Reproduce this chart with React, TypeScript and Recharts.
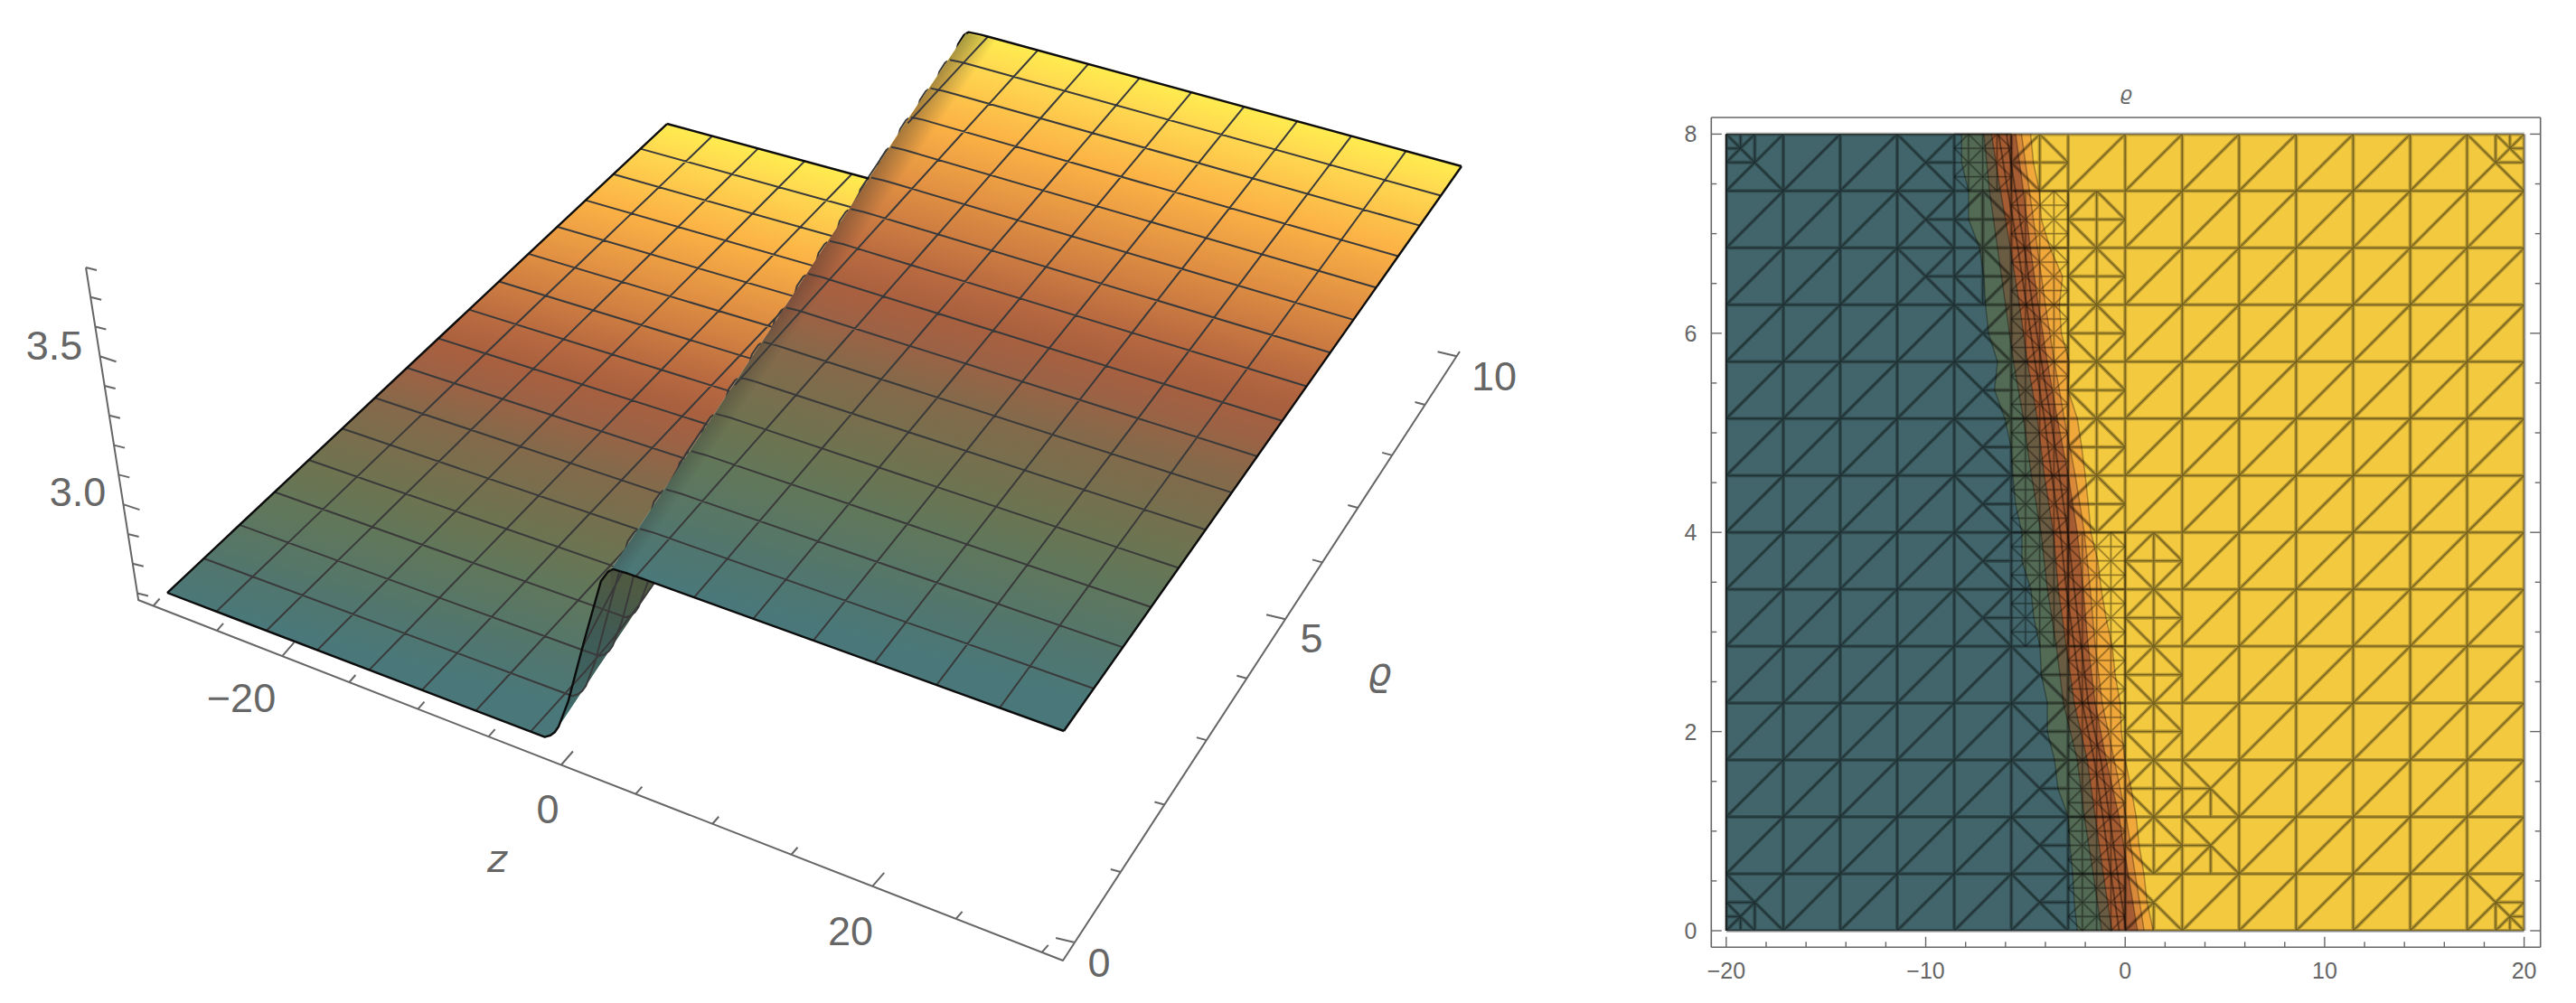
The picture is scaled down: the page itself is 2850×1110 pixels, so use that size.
import { Area, ComposedChart, Line, ReferenceDot, XAxis, YAxis } from "recharts";

// ---- surface data (left plot) ----
const meshZ = [-30, -26.25, -22.5, -18.75, -15, -11.25, -7.5, -3.75, 0, 3.75, 7.5, 11.25, 15, 18.75, 22.5, 26.25, 30];
const meshRho = [0, 0.625, 1.25, 1.875, 2.5, 3.125, 3.75, 4.375, 5, 5.625, 6.25, 6.875, 7.5, 8.125, 8.75, 9.375, 10];
const ridgeRho = [0, 2, 4, 6, 8, 10];
const ridgeZ = [0, -1.5, -3, -4.55, -6.1, -7.5];
const profileDz = [-4, -2.8, -2.4, -2.1, -1.83, -1.1, 0.17, 1.42, 1.9, 2.1, 2.28, 3.2, 8];
const profileLevel = [0, 0, 0.02, 0.045, 0.08, 0.23, 0.58, 0.91, 0.97, 0.985, 0.995, 1, 1];
const foldRho = [0, 0.25, 0.5, 0.75, 1, 1.25, 1.5, 1.75, 2, 2.25, 2.5, 2.75, 3];
const colorRho = [10, 9.4, 8.1, 6.9, 5.6, 5, 4.4, 3.75, 2.5, 1.9, 0.6, 0];
const colorHex = ["#ffec50", "#ffd850", "#fbb045", "#df8e42", "#b96a40", "#a9603f", "#9c6245", "#85694a", "#6e7350", "#637758", "#50766f", "#4a787a"];
const zAxisTicks = [-30, -25, -20, -15, -10, -5, 0, 5, 10, 15, 20, 25, 30];
const rhoAxisTicks = [0, 1, 2, 3, 4, 5, 6, 7, 8, 9, 10];
const hAxisTicks = [2.7, 2.8, 2.9, 3.0, 3.1, 3.2, 3.3, 3.4, 3.5, 3.6, 3.7, 3.8];

// ---- density plot data (right plot) ----
const gridZ = [-20, -17.14, -14.29, -11.43, -8.57, -5.71, -2.86, 0, 2.86, 5.71, 8.57, 11.43, 14.29, 17.14, 20];
const gridRho = [0, 0.571, 1.143, 1.714, 2.286, 2.857, 3.429, 4, 4.571, 5.143, 5.714, 6.286, 6.857, 7.429, 8];
// refinement of every cell, top row first
const meshLevels = [
  "c00x210000000c",
  "000x1210000000",
  "000x1210000000",
  "0000x210000000",
  "0000x210000000",
  "0000x210000000",
  "0000x210000000",
  "0000x221000000",
  "0000x221000000",
  "00000x21000000",
  "00000x21000000",
  "00000x21y00000",
  "00000x21y00000",
  "c0000x2y00000c",
];
const tealEdge = [-2.4, -2.55, -2.63, -2.77, -2.86, -3.37, -3.54, -3.9, -3.9, -4.2, -4.27, -4.58, -4.73, -5.18, -5.18, -5.5, -5.63, -5.72, -6.03, -6.55, -6.4, -6.85, -7, -7.08, -7.3, -7.85, -7.85, -8.2, -8.2];
const oliveEdge = [-1.18, -1.6, -2.05, -2.4, -3.1, -3.45, -3.9, -4.22, -4.7, -5.1, -5.6, -6, -6.4, -6.8, -7.08];
const umberEdge = [-0.66, -1.1, -1.5, -1.9, -2.55, -2.95, -3.35, -3.6, -4.05, -4.4, -4.9, -5.3, -5.75, -6.25, -6.7];
const brownEdge = [0.62, 0.15, -0.3, -0.95, -1.5, -1.85, -2.1, -2.4, -2.85, -3.4, -3.9, -4.35, -4.75, -5.1, -5.49];
const amberEdge = [0.95, 0.5, 0.05, -0.55, -1.15, -1.5, -1.75, -2.05, -2.5, -3.05, -3.55, -4, -4.4, -4.8, -5.2];
const orangeEdge = [1.41, 1.1, 0.94, 0.7, 0.55, 0.3, 0, -0.19, -0.25, -0.5, -0.65, -0.96, -1.2, -1.37, -1.72, -1.85, -2, -2.18, -2.4, -2.86, -2.8, -3.2, -3.3, -3.14, -3.77, -4.2, -4.3, -4.6, -4.74];
const streakA = [-0.3, -0.72, -1.12, -1.55, -2.15, -2.55, -2.95, -3.25, -3.68, -4.05, -4.52, -4.95, -5.38, -5.88, -6.35];
const streakB = [0.05, -0.38, -0.78, -1.22, -1.85, -2.2, -2.55, -2.88, -3.3, -3.72, -4.2, -4.65, -5.05, -5.5, -5.95];
const xTicks = [-20, -18, -16, -14, -12, -10, -8, -6, -4, -2, 0, 2, 4, 6, 8, 10, 12, 14, 16, 18, 20];
const yTicks = [0, 0.5, 1, 1.5, 2, 2.5, 3, 3.5, 4, 4.5, 5, 5.5, 6, 6.5, 7, 7.5, 8];

type Pt = [number, number];
const GRAY = "#666666";
const FONT = "'Liberation Sans', Arial, sans-serif";

// square -> quad projective map, this is the "camera" of the 3D plot
function plane(p00: Pt, p10: Pt, p11: Pt, p01: Pt) {
  const sx = p00[0] - p10[0] + p11[0] - p01[0];
  const sy = p00[1] - p10[1] + p11[1] - p01[1];
  const dx1 = p10[0] - p11[0], dx2 = p01[0] - p11[0], dy1 = p10[1] - p11[1], dy2 = p01[1] - p11[1];
  const den = dx1 * dy2 - dx2 * dy1;
  const g = (sx * dy2 - dx2 * sy) / den;
  const h = (dx1 * sy - sx * dy1) / den;
  const a = p10[0] - p00[0] + g * p10[0], b = p01[0] - p00[0] + h * p01[0];
  const d = p10[1] - p00[1] + g * p10[1], e = p01[1] - p00[1] + h * p01[1];
  return (s: number, t: number): Pt => {
    const w = g * s + h * t + 1;
    return [(a * s + b * t + p00[0]) / w, (d * s + e * t + p00[1]) / w];
  };
}
const lowPlane = plane([185, 656], [1190, 1040], [1640, 382], [738, 137]);
const highPlane = plane([167, 444], [1177, 809], [1617, 184], [726, -60]);
const floorPlane = plane([153, 664], [1176, 1063], [1615, 389], [706, 145]);

function lookup(xs: number[], ys: number[], x: number) {
  if (x <= xs[0]) return ys[0];
  for (let i = 1; i < xs.length; i++) {
    if (x <= xs[i]) return ys[i - 1] + ((ys[i] - ys[i - 1]) * (x - xs[i - 1])) / (xs[i] - xs[i - 1]);
  }
  return ys[ys.length - 1];
}
const ridge = (rho: number) => lookup(ridgeRho, ridgeZ, rho);

function surface(z: number, rho: number): Pt {
  const s = (z + 30) / 60, t = rho / 10;
  const lo = lowPlane(s, t), hi = highPlane(s, t);
  const l = lookup(profileDz, profileLevel, z - ridge(rho));
  return [lo[0] + l * (hi[0] - lo[0]), lo[1] + l * (hi[1] - lo[1])];
}
const floor = (z: number, rho: number) => floorPlane((z + 31.2) / 62.4, (rho + 0.25) / 10.35);
const heightAxis = (h: number): Pt => {
  const f = (h - 2.68) / (3.8 - 2.68);
  return [153 - 58 * f, 663 - 367 * f];
};

const CREST = 2.1;
const rampDz = [-4, -3.2, -2.8, -2.4, -2.1, -1.83, -1.45, -1.1, -0.5, 0.17, 0.8, 1.42, 1.9, CREST];
const topDz = [CREST, 2.28, 2.7, 3.2, 4];
const rhoSteps = [0, 0.5, 1, 1.5, 2, 2.5, 3, 3.5, 4, 4.5, 5, 5.5, 6, 6.5, 7, 7.5, 8, 8.5, 9, 9.5, 10];

const lowRow = (rho: number): Pt[] => [surface(-30, rho), ...rampDz.map((d) => surface(ridge(rho) + d, rho))];
const highRow = (rho: number): Pt[] => [...topDz.map((d) => surface(ridge(rho) + d, rho)), surface(30, rho)];
const crestEdge = (d: number): Pt[] => rhoSteps.map((r) => surface(ridge(r) + d, r));

function zLine(z: number, high: boolean): Pt[] {
  return rhoSteps.filter((r) => (high ? z - ridge(r) >= CREST : z - ridge(r) <= CREST)).map((r) => surface(z, r));
}

// lower right silhouette of the ramp: the point of each row farthest along the view normal
const foldPoint = (rho: number): Pt =>
  rampDz
    .map((d) => surface(ridge(rho) + d, rho))
    .reduce((best, p) => (p[0] * 0.84 + p[1] * 0.54 > best[0] * 0.84 + best[1] * 0.54 ? p : best));

// polylines -> one series, a null y breaks the path
function toLine(lines: Pt[][]) {
  const out: { x: number; y: number | null }[] = [];
  lines.forEach((pts) => {
    pts.forEach((p) => out.push({ x: p[0], y: p[1] }));
    if (pts.length) out.push({ x: pts[pts.length - 1][0], y: null });
  });
  return out;
}

// two x-monotone chains -> rows for a range Area
function toRange(upper: Pt[], lower: Pt[]) {
  const at = (c: Pt[], x: number) => lookup(c.map((p) => p[0]), c.map((p) => p[1]), x);
  const xs = Array.from(new Set([...upper, ...lower].map((p) => p[0]))).sort((a, b) => a - b);
  return xs.map((x) => ({ x, band: [at(upper, x), at(lower, x)] }));
}

const lowFill = toRange(
  [surface(-30, 0), surface(-30, 10), ...lowRow(10).slice(1)],
  [...lowRow(0), ...crestEdge(CREST).slice(1)],
);
const undersideFill = toRange(
  [...rampDz.filter((d) => d >= -1.83).map((d) => surface(ridge(0) + d, 0)), ...highRow(0).slice(1, 4), surface(7, 0)],
  foldRho.map(foldPoint).sort((a, b) => a[0] - b[0]),
);
const highFill = toRange(
  [...crestEdge(CREST), ...highRow(10).slice(1)],
  [...highRow(0), surface(30, 10)],
);
const shadeFill = toRange(
  [...crestEdge(CREST), surface(ridge(10) + 6, 10)],
  [surface(6, 0), ...crestEdge(6).slice(1)],
);

const lowGrid = toLine([...meshRho.slice(1, -1).map(lowRow), ...meshZ.slice(1).map((z) => zLine(z, false))]);
// rows start a little inside the crest so the silhouette stays clean
const highGrid = toLine([...meshRho.slice(1, -1).map((r) => highRow(r).slice(1)), ...meshZ.slice(1, -1).map((z) => zLine(z, true))]);
const lowOutline = toLine([lowRow(0), [surface(-30, 0), surface(-30, 10)], lowRow(10)]);
const highOutline = toLine([highRow(0), highRow(10), [surface(30, 0), surface(30, 10)]]);

const tickSeg = (p: Pt, dx: number, dy: number): Pt[] => [p, [p[0] + dx, p[1] + dy]];
const axisLines = toLine([
  [heightAxis(3.8), heightAxis(2.68), floor(-31.2, -0.25), floor(31.2, -0.25), floor(31.2, 10.1)],
  ...zAxisTicks.map((z) => (z % 20 === 0 ? tickSeg(floor(z, -0.25), 13, -15) : tickSeg(floor(z, -0.25), 7, -8))),
  ...rhoAxisTicks.map((r) => (r % 5 === 0 ? tickSeg(floor(31.2, r), -21, -5) : tickSeg(floor(31.2, r), -11, -3))),
  ...hAxisTicks.map((h) => (Math.round(h * 10) % 5 === 0 ? tickSeg(heightAxis(h), 18, 6) : tickSeg(heightAxis(h), 12, 3))),
]);

// ---- gradient along rho, iso colours parallel to the mesh rows ----
function rhoGradient(map: (s: number, t: number) => Pt, s0: number) {
  const a = map(s0, 1), b = map(s0 + 0.3, 1), c = map(s0, 0);
  const len = Math.hypot(b[0] - a[0], b[1] - a[1]);
  const n: Pt = [-(b[1] - a[1]) / len, (b[0] - a[0]) / len];
  const w = (c[0] - a[0]) * n[0] + (c[1] - a[1]) * n[1];
  return {
    x1: a[0], y1: a[1], x2: a[0] + n[0] * w, y2: a[1] + n[1] * w,
    stops: colorRho.map((r, i) => {
      const q = map(s0, r / 10);
      return { offset: ((q[0] - a[0]) * n[0] + (q[1] - a[1]) * n[1]) / w, color: colorHex[i] };
    }),
  };
}

function RhoGradient({ id, g }: { id: string; g: ReturnType<typeof rhoGradient> }) {
  return (
    <linearGradient id={id} gradientUnits="userSpaceOnUse" x1={g.x1} y1={g.y1} x2={g.x2} y2={g.y2}>
      {g.stops.map((s) => (
        <stop key={s.color} offset={s.offset} stopColor={s.color} />
      ))}
    </linearGradient>
  );
}

function textAt(key: string, p: Pt, value: string, size = 45, style?: string) {
  return (
    <ReferenceDot
      key={key}
      x={p[0]}
      y={p[1]}
      r={0}
      fill="none"
      stroke="none"
      label={{ value, position: "center", fontSize: size, fill: GRAY, fontFamily: style ? "'DejaVu Sans'" : FONT, fontStyle: style }}
    />
  );
}

function SurfacePlot() {
  const area = (rows: unknown[], fill: string, z: number) => (
    <Area data={rows as never[]} dataKey="band" fill={fill} fillOpacity={1} stroke="none" dot={false} activeDot={false} isAnimationActive={false} zIndex={z} />
  );
  const line = (rows: unknown[], stroke: string, width: number, z: number) => (
    <Line data={rows as never[]} dataKey="y" stroke={stroke} strokeWidth={width} dot={false} activeDot={false} isAnimationActive={false} strokeLinejoin="round" zIndex={z} />
  );
  return (
    <ComposedChart width={1800} height={1110} margin={{ top: 0, right: 0, bottom: 0, left: 0 }}>
      <defs>
        <RhoGradient id="lowColors" g={rhoGradient(lowPlane, 0.1)} />
        <RhoGradient id="highColors" g={rhoGradient(highPlane, 0.6)} />
        <linearGradient id="underColors" gradientUnits="userSpaceOnUse" x1={640} y1={790} x2={700} y2={650}>
          <stop offset={0} stopColor="#3f6a6a" />
          <stop offset={0.6} stopColor="#3f5a54" />
          <stop offset={1} stopColor="#4f5a42" />
        </linearGradient>
        <linearGradient id="crestShade" gradientUnits="userSpaceOnUse" x1={860} y1={340} x2={886} y2={358}>
          <stop offset={0} stopColor="#2a2a2a" stopOpacity={0.4} />
          <stop offset={1} stopColor="#2a2a2a" stopOpacity={0} />
        </linearGradient>
      </defs>
      <XAxis type="number" dataKey="x" domain={[0, 1800]} hide allowDataOverflow />
      <YAxis type="number" domain={[0, 1110]} reversed hide allowDataOverflow />
      {line(axisLines, GRAY, 2, 101)}
      {area(lowFill, "url(#lowColors)", 102)}
      {area(undersideFill, "url(#underColors)", 103)}
      {line(lowGrid, "#3a3a3a", 2, 104)}
      {line(lowOutline, "#0c0c0c", 2.4, 105)}
      {area(highFill, "url(#highColors)", 106)}
      {area(shadeFill, "url(#crestShade)", 107)}
      {line(highGrid, "#3a3a3a", 2, 108)}
      {line(highOutline, "#0c0c0c", 2.4, 109)}
      {textAt("h35", [60, 382], "3.5")}
      {textAt("h30", [86, 544], "3.0")}
      {textAt("z-20", [267, 772], "\u221220")}
      {textAt("z0", [606, 895], "0")}
      {textAt("z20", [941, 1030], "20")}
      {textAt("zName", [550, 950], "z", 42, "italic")}
      {textAt("r0", [1216, 1065], "0")}
      {textAt("r5", [1451, 706], "5")}
      {textAt("r10", [1653, 416], "10")}
      {textAt("rName", [1526, 743], "\u03f1", 42, "italic")}
    </ComposedChart>
  );
}

// ---- triangle mesh of the density plot ----
type MeshRow = { z: number; rho: number | null };
function buildMesh() {
  const coarse: MeshRow[] = [];
  const fine: MeshRow[] = [];
  const put = (out: MeshRow[], z1: number, r1: number, z2: number, r2: number) => {
    out.push({ z: z1, rho: r1 }, { z: z2, rho: r2 }, { z: z2, rho: null });
  };
  const seg = (z1: number, r1: number, z2: number, r2: number) => put(coarse, z1, r1, z2, r2);
  meshLevels.forEach((row, t) => {
    const j = meshLevels.length - 1 - t;
    row.split("").forEach((level, c) => {
      const z0 = gridZ[c], z1 = gridZ[c + 1], r0 = gridRho[j], r1 = gridRho[j + 1];
      const zm = (z0 + z1) / 2, rm = (r0 + r1) / 2;
      seg(z0, r0, z1, r0);
      seg(z0, r1, z1, r1);
      seg(z0, r0, z0, r1);
      seg(z1, r0, z1, r1);
      if (level === "0") {
        seg(z0, r0, z1, r1);
      } else if (level === "x" || level === "y") {
        seg(z0, r1, z1, r0);
        seg(z0, r0, z1, r1);
        if (level === "x") {
          seg(zm, rm, z1, rm);
        } else {
          seg(z0, rm, zm, rm);
          seg(zm, r0, zm, rm);
        }
      } else if (level === "c") {
        // domain corners: refinement shrinks towards the outer corner
        const zc = c === 0 ? z0 : z1, zf = c === 0 ? z1 : z0;
        const rc = j === 0 ? r0 : r1, rf = j === 0 ? r1 : r0;
        const zq = (zc + zm) / 2, rq = (rc + rm) / 2;
        seg(zc, rc, zf, rf);
        seg(zc, rf, zf, rc);
        seg(zc, rm, zm, rm);
        seg(zm, rc, zm, rm);
        seg(zc, rm, zm, rc);
        seg(zc, rq, zq, rq);
        seg(zq, rc, zq, rq);
      } else {
        const n = 2 ** Number(level);
        const dz = (z1 - z0) / n, dr = (r1 - r0) / n;
        const target = n > 2 ? fine : coarse;
        for (let a = 0; a < n; a++) {
          for (let b = 0; b < n; b++) {
            const za = z0 + a * dz, rb = r0 + b * dr;
            put(target, za, rb + dr, za + dz, rb + dr);
            put(target, za + dz, rb, za + dz, rb + dr);
            if ((a + b) % 2 === 0) put(target, za, rb + dr, za + dz, rb);
            else put(target, za, rb, za + dz, rb + dr);
          }
        }
      }
    });
  });
  return { coarse, fine };
}
const mesh = buildMesh();

const fineRho = orangeEdge.map((_, i) => (i * 8) / (orangeEdge.length - 1));
const bandRows = (edge: number[], rhos: number[]) => rhos.map((rho, i) => ({ rho, band: [-20, edge[i]] }));
const streakRows = [streakA, streakB].flatMap((edge) => [
  ...edge.map((z, i) => ({ z, rho: gridRho[i] as number | null })),
  { z: edge[edge.length - 1], rho: null },
]);

function FrameTick({ x, y, payload, side }: any) {
  const v = payload.value;
  const isX = side === "bottom" || side === "top";
  const major = isX ? v % 10 === 0 : v % 2 === 0;
  const len = major ? 11.5 : 6;
  const dir = side === "bottom" ? [0, -1] : side === "top" ? [0, 1] : side === "left" ? [1, 0] : [-1, 0];
  return (
    <g>
      <line x1={x} y1={y} x2={x + dir[0] * len} y2={y + dir[1] * len} stroke={GRAY} strokeWidth={1.4} />
      {major && side === "bottom" && (
        <text x={x} y={y + 35} textAnchor="middle" fontSize={25} fill={GRAY} fontFamily={FONT}>
          {v < 0 ? `\u2212${-v}` : v}
        </text>
      )}
      {major && side === "left" && (
        <text x={x - 16} y={y + 9} textAnchor="end" fontSize={25} fill={GRAY} fontFamily={FONT}>
          {v}
        </text>
      )}
    </g>
  );
}

const xDomain = [-20.75, 20.82];
const yDomain = [-0.166, 8.167];

function DensityBands() {
  const band = (rows: unknown[], fill: string) => (
    <Area data={rows as never[]} dataKey="band" fill={fill} fillOpacity={1} stroke="rgba(0,0,0,0.3)" strokeWidth={1.5} dot={false} activeDot={false} isAnimationActive={false} />
  );
  return (
    <ComposedChart layout="vertical" width={1070} height={1030} margin={{ top: 50, right: 39.3, bottom: 61.7, left: 113.3 }}>
      <XAxis type="number" domain={xDomain} hide allowDataOverflow />
      <YAxis type="number" dataKey="rho" domain={yDomain} reversed hide allowDataOverflow />
      <Area data={gridRho.map((rho) => ({ rho, band: [-20, 20] })) as never[]} dataKey="band" fill="#f3c93f" fillOpacity={1} stroke="none" dot={false} activeDot={false} isAnimationActive={false} />
      {band(bandRows(orangeEdge, fineRho), "#f0a83a")}
      {band(bandRows(amberEdge, gridRho), "#d88a3a")}
      {band(bandRows(brownEdge, gridRho), "#a55c32")}
      {band(bandRows(umberEdge, gridRho), "#6a5c42")}
      {band(bandRows(oliveEdge, gridRho), "#536a54")}
      {band(bandRows(tealEdge, fineRho), "#41656a")}
    </ComposedChart>
  );
}

function DensityMesh() {
  const frame = { type: "number" as const, interval: 0, tickSize: 0, tickMargin: 0, tickLine: false, allowDataOverflow: true, stroke: GRAY, strokeWidth: 1.6 };
  const meshLine = (rows: MeshRow[], opacity: number, width: number) => (
    <Line data={rows as never[]} dataKey="rho" stroke="#000" strokeOpacity={opacity} strokeWidth={width} dot={false} activeDot={false} isAnimationActive={false} />
  );
  return (
    <ComposedChart width={1070} height={1030} margin={{ top: 49, right: 38.3, bottom: 60.7, left: 112.3 }}>
      <XAxis {...frame} xAxisId={0} dataKey="z" orientation="bottom" domain={xDomain} ticks={xTicks} height={1} tick={(p: any) => <FrameTick {...p} side="bottom" />} />
      <XAxis {...frame} xAxisId="top" orientation="top" domain={xDomain} ticks={xTicks} height={1} tick={(p: any) => <FrameTick {...p} side="top" />} label={{ value: "\u03f1", position: "top", offset: 18, fontSize: 22, fontStyle: "italic", fill: GRAY, fontFamily: "'DejaVu Sans'" }} />
      <YAxis {...frame} yAxisId={0} orientation="left" domain={yDomain} ticks={yTicks} width={1} tick={(p: any) => <FrameTick {...p} side="left" />} />
      <YAxis {...frame} yAxisId="right" orientation="right" domain={yDomain} ticks={yTicks} width={1} tick={(p: any) => <FrameTick {...p} side="right" />} />
      {meshLine(streakRows as MeshRow[], 0.4, 2)}
      {meshLine(mesh.fine, 0.2, 2.4)}
      {meshLine(mesh.fine, 0.28, 1)}
      {meshLine(mesh.coarse, 0.26, 4)}
      {meshLine(mesh.coarse, 0.35, 1.3)}
    </ComposedChart>
  );
}

export default function App() {
  return (
    <div style={{ position: "absolute", left: 0, top: 0, width: 2850, height: 1110, background: "#fff", overflow: "hidden" }}>
      <div style={{ position: "absolute", left: 0, top: 0 }}>
        <SurfacePlot />
      </div>
      <div style={{ position: "absolute", left: 1780, top: 80 }}>
        <DensityBands />
      </div>
      <div style={{ position: "absolute", left: 1780, top: 80 }}>
        <DensityMesh />
      </div>
    </div>
  );
}
